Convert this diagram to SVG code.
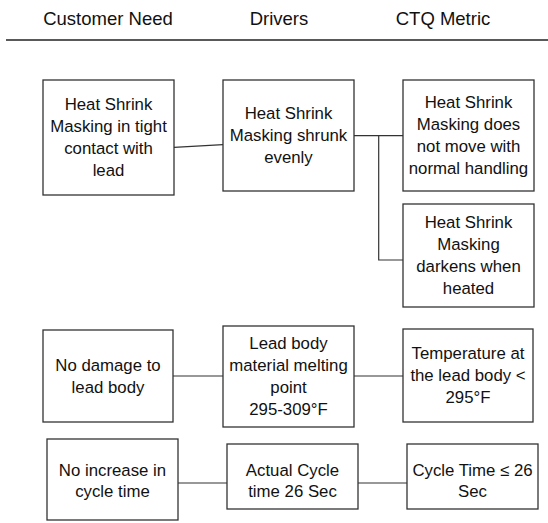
<svg xmlns="http://www.w3.org/2000/svg" width="548" height="523" viewBox="0 0 548 523">
<style>
text{font-family:"Liberation Sans",Arial,sans-serif;font-size:16.8px;fill:#111;text-anchor:middle}
.box{fill:#fff;stroke:#333;stroke-width:1.3}
.con{fill:none;stroke:#333;stroke-width:1.2}
.hdr{font-size:18.5px}
</style>
<rect width="548" height="523" fill="#fff"/>
<g id="header">
<text class="hdr" x="108" y="25">Customer Need</text>
<text class="hdr" x="279" y="25">Drivers</text>
<text class="hdr" x="443" y="25">CTQ Metric</text>
<line x1="6" y1="40" x2="548" y2="40" stroke="#222" stroke-width="1.5"/>
</g>
<g id="connectors">
<line class="con" x1="174" y1="147.3" x2="223" y2="144.7"/>
<polyline class="con" points="354,135.7 403,135.7"/>
<polyline class="con" points="378.7,135.7 378.7,260 403,260"/>
<line class="con" x1="173" y1="376" x2="223" y2="376"/>
<line class="con" x1="354" y1="376" x2="403" y2="376"/>
<line class="con" x1="178" y1="483" x2="227" y2="483"/>
<line class="con" x1="358" y1="483" x2="407" y2="483"/>
</g>
<g id="n1"><rect class="box" x="43" y="80" width="131" height="115"/>
<text x="108.5" y="110">Heat Shrink</text><text x="108.5" y="132">Masking in tight</text><text x="108.5" y="154">contact with</text><text x="108.5" y="176">lead</text></g>
<g id="n2"><rect class="box" x="223" y="80" width="131" height="111"/>
<text x="288.5" y="119">Heat Shrink</text><text x="288.5" y="141">Masking shrunk</text><text x="288.5" y="163">evenly</text></g>
<g id="n3"><rect class="box" x="403" y="80" width="131" height="111"/>
<text x="468.5" y="108">Heat Shrink</text><text x="468.5" y="130">Masking does</text><text x="468.5" y="152">not move with</text><text x="468.5" y="174">normal handling</text></g>
<g id="n4"><rect class="box" x="403" y="204" width="131" height="103"/>
<text x="468.5" y="228">Heat Shrink</text><text x="468.5" y="250">Masking</text><text x="468.5" y="272">darkens when</text><text x="468.5" y="294">heated</text></g>
<g id="n5"><rect class="box" x="43" y="330" width="130" height="92"/>
<text x="108" y="370.5">No damage to</text><text x="108" y="392.5">lead body</text></g>
<g id="n6"><rect class="box" x="223" y="326" width="131" height="101"/>
<text x="288.5" y="349">Lead body</text><text x="288.5" y="371">material melting</text><text x="288.5" y="393">point</text><text x="288.5" y="415">295-309°F</text></g>
<g id="n7"><rect class="box" x="403" y="329" width="130" height="93"/>
<text x="468" y="359">Temperature at</text><text x="468" y="381">the lead body &lt;</text><text x="468" y="403">295°F</text></g>
<g id="n8"><rect class="box" x="47" y="439" width="131" height="81"/>
<text x="112.5" y="476">No increase in</text><text x="112.5" y="497">cycle time</text></g>
<g id="n9"><rect class="box" x="227" y="444" width="131" height="65"/>
<text x="292.5" y="476">Actual Cycle</text><text x="292.5" y="497">time 26 Sec</text></g>
<g id="n10"><rect class="box" x="407" y="444" width="131" height="65"/>
<text x="472.5" y="476">Cycle Time ≤ 26</text><text x="472.5" y="497">Sec</text></g>
</svg>
